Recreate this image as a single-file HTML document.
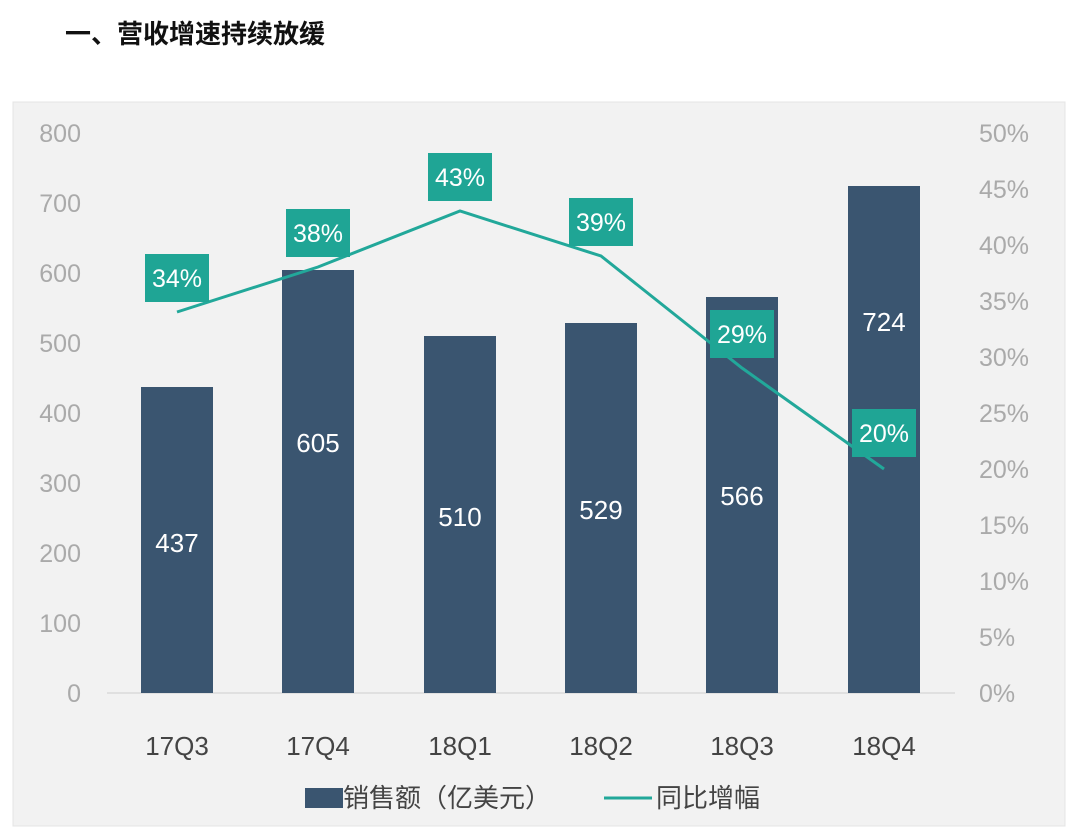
<!DOCTYPE html>
<html><head><meta charset="utf-8"><style>
body{margin:0;background:#fff;width:1080px;height:833px;overflow:hidden;font-family:"Liberation Sans","Noto Sans CJK SC",sans-serif}
</style></head><body>
<svg width="1080" height="833" xmlns="http://www.w3.org/2000/svg" font-family="Liberation Sans, Noto Sans CJK SC, sans-serif">
<text x="65" y="43" font-size="26" font-weight="bold" fill="#111">一、营收增速持续放缓</text>
<rect x="13" y="102" width="1052" height="724" fill="#f2f2f2" stroke="#e4e4e4"/>
<g font-size="25" fill="#aaa" text-anchor="end">
<text x="81" y="142">800</text><text x="81" y="212">700</text><text x="81" y="282">600</text><text x="81" y="352">500</text><text x="81" y="422">400</text><text x="81" y="492">300</text><text x="81" y="562">200</text><text x="81" y="632">100</text><text x="81" y="702">0</text>
</g>
<g font-size="25" fill="#aaa" text-anchor="start">
<text x="979" y="142">50%</text><text x="979" y="198">45%</text><text x="979" y="254">40%</text><text x="979" y="310">35%</text><text x="979" y="366">30%</text><text x="979" y="422">25%</text><text x="979" y="478">20%</text><text x="979" y="534">15%</text><text x="979" y="590">10%</text><text x="979" y="646">5%</text><text x="979" y="702">0%</text>
</g>
<line x1="107" y1="693" x2="955" y2="693" stroke="#d9d9d9" stroke-width="1.5"/>
<g fill="#3a5570">
<rect x="141" y="387" width="72" height="306"/>
<rect x="282" y="270" width="72" height="423"/>
<rect x="424" y="336" width="72" height="357"/>
<rect x="565" y="323" width="72" height="370"/>
<rect x="706" y="297" width="72" height="396"/>
<rect x="848" y="186" width="72" height="507"/>
</g>
<g font-size="26" fill="#fff" text-anchor="middle">
<text x="177" y="552">437</text><text x="318" y="452">605</text><text x="460" y="526">510</text><text x="601" y="519">529</text><text x="742" y="505">566</text><text x="884" y="331">724</text>
</g>
<polyline points="177,312 318,267 460,211 601,256 742,368 884,469" fill="none" stroke="#22a89a" stroke-width="3"/>
<g fill="#1fa595">
<rect x="145" y="254" width="64" height="48"/>
<rect x="286" y="209" width="64" height="48"/>
<rect x="428" y="153" width="64" height="48"/>
<rect x="569" y="198" width="64" height="48"/>
<rect x="710" y="310" width="64" height="48"/>
<rect x="852" y="409" width="64" height="48"/>
</g>
<g font-size="25" fill="#fff" text-anchor="middle">
<text x="177" y="287">34%</text><text x="318" y="242">38%</text><text x="460" y="186">43%</text><text x="601" y="231">39%</text><text x="742" y="343">29%</text><text x="884" y="442">20%</text>
</g>
<g font-size="26" fill="#444" text-anchor="middle">
<text x="177" y="755">17Q3</text><text x="318" y="755">17Q4</text><text x="460" y="755">18Q1</text><text x="601" y="755">18Q2</text><text x="742" y="755">18Q3</text><text x="884" y="755">18Q4</text>
</g>
<rect x="305" y="788" width="38" height="20" fill="#3a5570"/>
<text x="343" y="807" font-size="26" fill="#444">销售额（亿美元）</text>
<line x1="604" y1="798" x2="652" y2="798" stroke="#22a89a" stroke-width="3"/>
<text x="656" y="807" font-size="26" fill="#444">同比增幅</text>
</svg>
</body></html>
